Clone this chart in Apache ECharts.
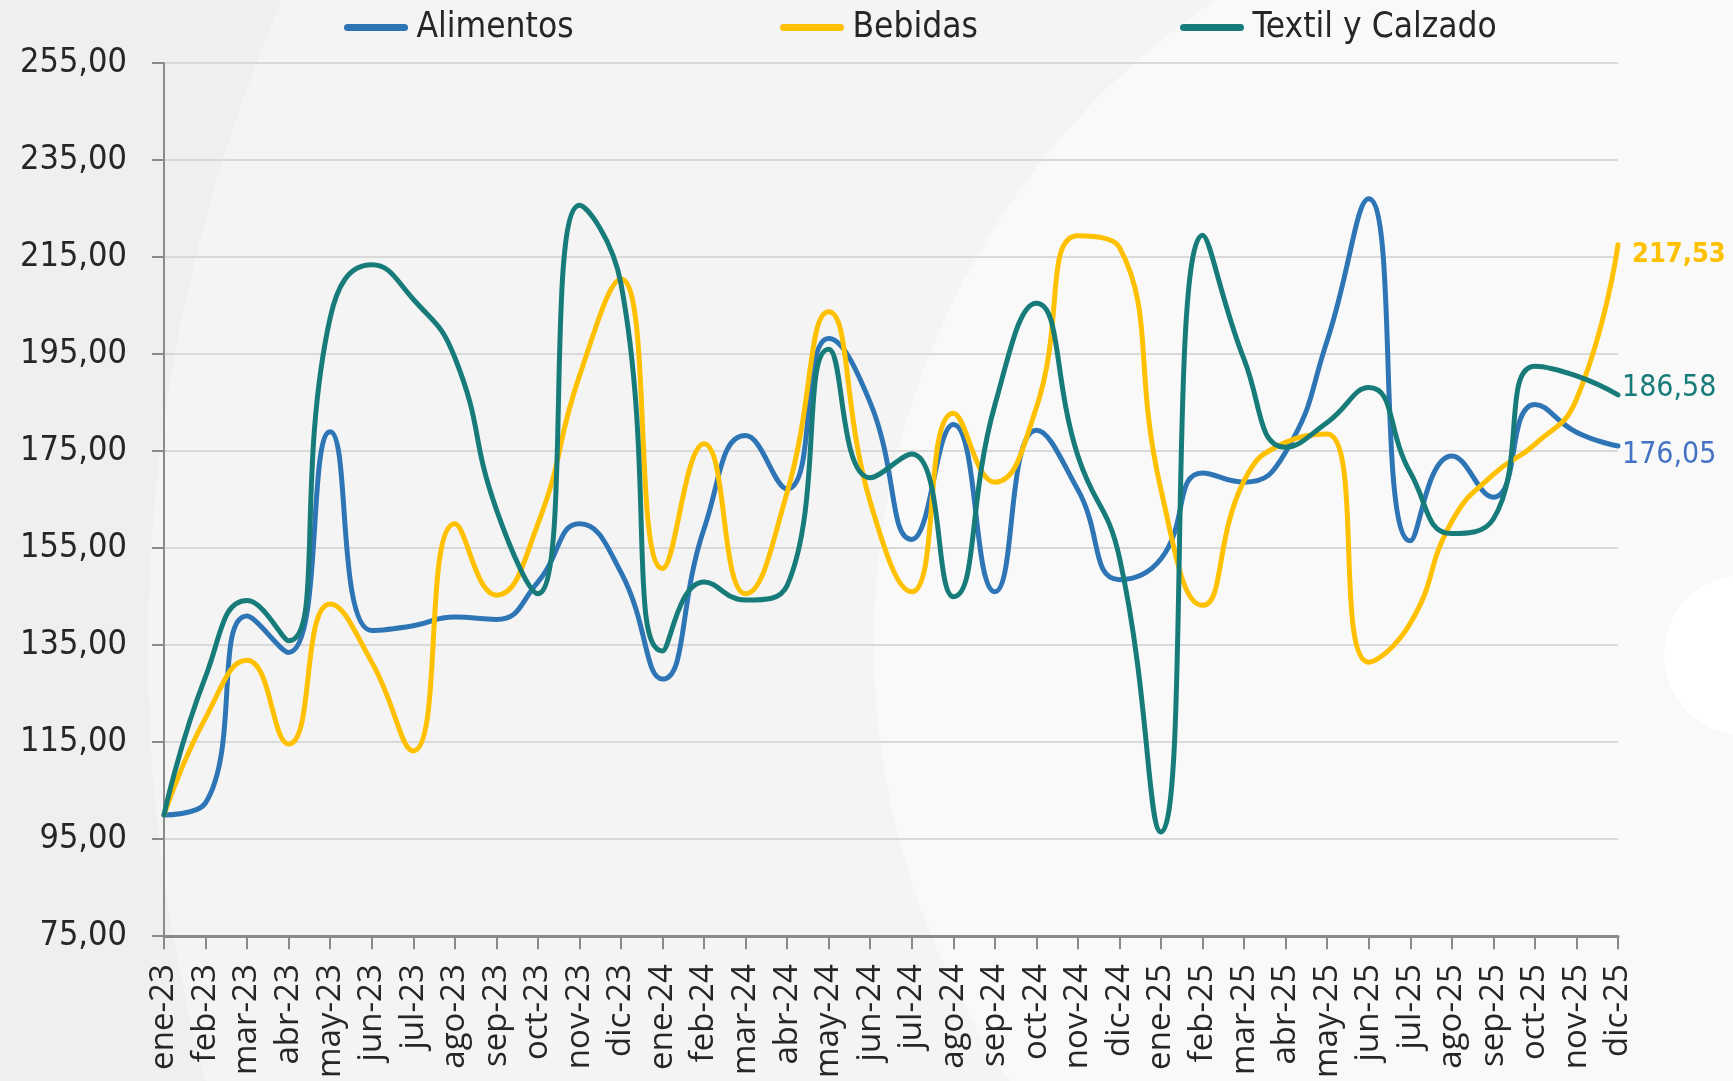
<!DOCTYPE html>
<html>
<head>
<meta charset="utf-8">
<title>Índices</title>
<script src="https://cdn.jsdelivr.net/npm/echarts@6/dist/echarts.min.js"></script>
<style>
  html, body { margin: 0; padding: 0; background: #f4f4f4; }
  #chart { width: 1733px; height: 1081px; }
</style>
</head>
<body>
<div id="chart"></div>
<script>
// categorias (meses)
var months = ['ene-23', 'feb-23', 'mar-23', 'abr-23', 'may-23', 'jun-23', 'jul-23', 'ago-23', 'sep-23', 'oct-23', 'nov-23', 'dic-23',
  'ene-24', 'feb-24', 'mar-24', 'abr-24', 'may-24', 'jun-24', 'jul-24', 'ago-24', 'sep-24', 'oct-24', 'nov-24', 'dic-24',
  'ene-25', 'feb-25', 'mar-25', 'abr-25', 'may-25', 'jun-25', 'jul-25', 'ago-25', 'sep-25', 'oct-25', 'nov-25', 'dic-25']

// series
var alimentos = [100.0, 102.5, 141.0, 133.5, 179.0, 138.0, 139.0, 140.8, 140.3, 148.0, 160.0, 150.0,
  128.0, 159.0, 178.2, 167.2, 198.2, 185.0, 156.8, 180.5, 146.0, 179.3, 167.0, 148.5,
  152.8, 170.5, 168.6, 174.8, 197.8, 227.0, 156.5, 174.0, 165.5, 184.6, 178.9, 176.05]
var bebidas = [100.0, 120.0, 131.9, 114.6, 143.5, 131.5, 113.2, 160.0, 145.3, 160.0, 190.5, 210.5,
  150.8, 176.5, 145.6, 166.5, 203.7, 164.5, 146.0, 182.8, 168.6, 184.0, 219.4, 217.0,
  167.0, 143.2, 168.9, 176.8, 178.5, 131.5, 139.5, 160.5, 170.2, 176.4, 185.7, 217.53]
var textil = [100.0, 128.5, 144.2, 135.9, 202.5, 213.4, 206.3, 194.3, 163.0, 145.6, 225.7, 209.5,
  133.8, 148.0, 144.3, 147.3, 196.0, 169.5, 174.4, 145.0, 184.5, 205.5, 174.0, 153.0,
  96.5, 219.5, 193.9, 175.8, 180.9, 188.1, 170.6, 158.0, 161.0, 192.5, 190.5, 186.58]

// eje y
var yMin = 75
var yMax = 255
var yStep = 20

var narrow = '"Liberation Sans Narrow", "DejaVu Sans Condensed", "Roboto", sans-serif'
var azul = '#2e75b6'
var amarillo = '#ffc000'
var verde = '#177c79'

function fmt (v) {
  return Number(v).toFixed(2).replace('.', ',')
}

function legendAt (name, left) {
  return {
    data: [name],
    left: left,
    top: 10,
    padding: 0,
    itemWidth: 57,
    itemHeight: 14,
    selectedMode: false,
    // solo la linea, sin el circulo del simbolo
    itemStyle: { opacity: 0 },
    lineStyle: { width: 7, cap: 'round' },
    textStyle: {
      fontFamily: narrow,
      fontSize: 35,
      color: '#262626',
      padding: [0, 0, 0, 7]
    }
  }
}

function serie (name, data, color, label) {
  return {
    name: name,
    type: 'line',
    data: data,
    smooth: 0.5,
    symbol: 'none',
    showSymbol: false,
    itemStyle: { color: color },
    lineStyle: { color: color, width: 5, cap: 'round', join: 'round' },
    endLabel: label
  }
}

var myChart = echarts.init(document.getElementById('chart'))
var option = {
  animation: false,
  backgroundColor: '#efefef',
  graphic: [
    // fondo decorativo
    { type: 'circle', silent: true, z: -10, shape: { cx: 1791, cy: 650, r: 1643 }, style: { fill: '#f4f4f4' } },
    { type: 'circle', silent: true, z: -9, shape: { cx: 1650, cy: 643, r: 776 }, style: { fill: '#f9f9f9' } },
    { type: 'circle', silent: true, z: -8, shape: { cx: 1744, cy: 655, r: 80 }, style: { fill: '#ffffff' } }
  ],
  legend: [
    legendAt('Alimentos', 344),
    legendAt('Bebidas', 780),
    legendAt('Textil y Calzado', 1180)
  ],
  grid: {
    left: 164,
    right: 115,
    top: 63,
    bottom: 142
  },
  xAxis: {
    type: 'category',
    boundaryGap: false,
    data: months,
    axisLine: { show: true, lineStyle: { color: '#8a8a8a', width: 3 } },
    axisTick: { show: true, length: 13, lineStyle: { color: '#8a8a8a', width: 2 } },
    axisLabel: {
      interval: 0,
      rotate: 90,
      margin: 28,
      fontFamily: '"Open Sans", "DejaVu Sans", sans-serif',
      fontSize: 33,
      color: '#262626'
    },
    splitLine: { show: false }
  },
  yAxis: {
    type: 'value',
    min: yMin,
    max: yMax,
    interval: yStep,
    axisLine: { show: true, lineStyle: { color: '#8a8a8a', width: 2 } },
    axisTick: { show: true, length: 12, lineStyle: { color: '#8a8a8a', width: 2 } },
    axisLabel: {
      margin: 37,
      fontFamily: narrow,
      fontSize: 34,
      color: '#262626',
      formatter: fmt
    },
    splitLine: { lineStyle: { color: '#d9d9d9', width: 2 } }
  },
  series: [
    serie('Alimentos', alimentos, azul, {
      show: true,
      formatter: function (p) { return fmt(p.value) },
      distance: 4,
      offset: [0, 9],
      fontFamily: narrow,
      fontSize: 30,
      color: '#4472c4'
    }),
    serie('Bebidas', bebidas, amarillo, {
      show: true,
      formatter: function (p) { return fmt(p.value) },
      distance: 14,
      offset: [0, 10],
      fontFamily: narrow,
      fontWeight: 'bold',
      fontSize: 27,
      color: amarillo
    }),
    serie('Textil y Calzado', textil, verde, {
      show: true,
      formatter: function (p) { return fmt(p.value) },
      distance: 4,
      offset: [0, -7],
      fontFamily: narrow,
      fontSize: 30,
      color: verde
    })
  ]
}
myChart.setOption(option)
</script>
</body>
</html>
